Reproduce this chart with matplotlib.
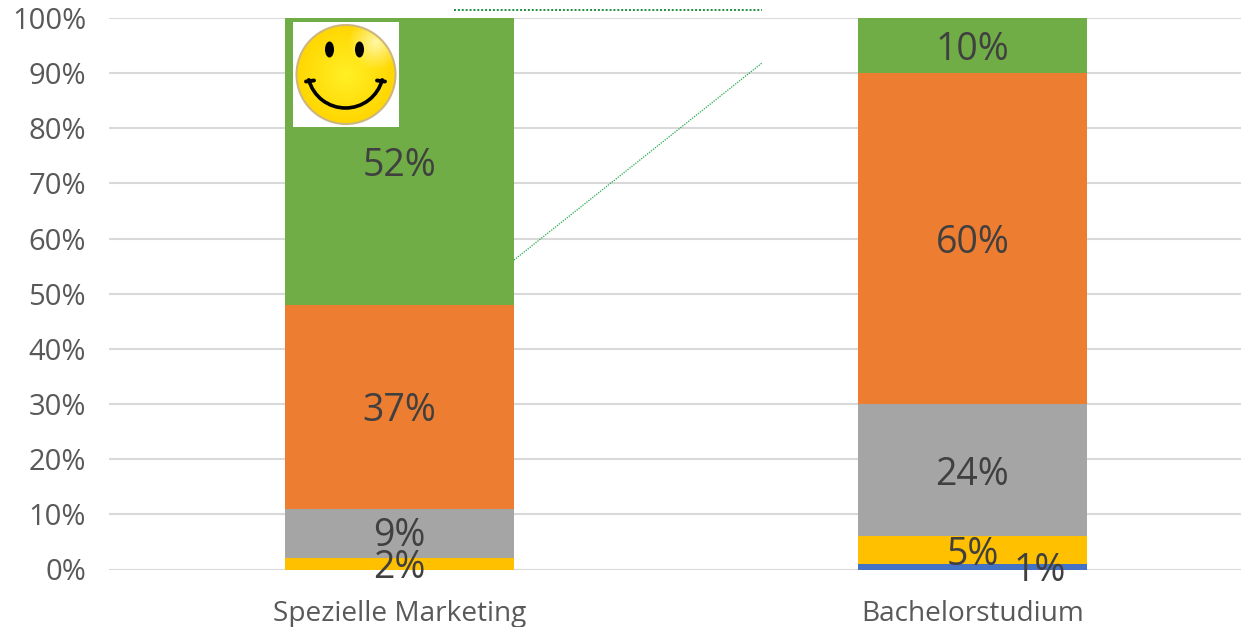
import numpy as np
from matplotlib import pyplot as plt
from matplotlib.lines import Line2D
from matplotlib.patches import Arc, Circle, Ellipse

plt.rcParams['font.family'] = ['Open Sans', 'DejaVu Sans']

categories = ['Spezielle Marketing', 'Bachelorstudium']
blue = [0, 1]
yellow = [2, 5]
grey = [9, 24]
orange = [37, 60]
green = [52, 10]
series = [(blue, '#4472C4'), (yellow, '#FFC000'), (grey, '#A5A5A5'),
          (orange, '#ED7D31'), (green, '#70AD47')]
y_ticks = list(range(0, 101, 10))

W, H = 1241, 627
# small nudges for the labels that sit on top of each other, in pixels
label_nudge = {(0, 9): (0, 1.7), (1, 1): (67.5, 0)}
base_drop = -4.5


def px(x, y):
    return x / W, 1 - y / H


fig = plt.figure(figsize=(W / 100, H / 100), dpi=100)
ax = fig.add_axes([109 / W, 1 - 569.5 / H, 1 - 109 / W, 551.5 / H])

x = np.arange(len(categories))
bottom = np.zeros(len(categories))
for values, color in series:
    ax.bar(x, values, 0.4, bottom=bottom, color=color, zorder=2)
    for i, v in enumerate(values):
        if v == 0:
            continue
        nudge = label_nudge.get((i, v), (0, 0))
        ax.annotate(f'{v}%', (x[i], bottom[i] + v / 2),
                    xytext=(nudge[0] * 0.72, (nudge[1] + base_drop) * 0.72),
                    textcoords='offset points', ha='center', va='center',
                    fontsize=27, color='#404040', zorder=5,
                    annotation_clip=False)
    bottom += np.array(values)

ax.set_xlim(-0.5 - 4 / 573, (W - 399.5) / 573)
ax.set_ylim(0, 100)
ax.set_xticks(x)
ax.set_xticklabels(categories, fontsize=20.2, color='#595959')
ax.set_yticks(y_ticks)
ax.set_yticklabels([f'{t}%' for t in y_ticks], fontsize=21, color='#595959')
ax.tick_params(length=0)
ax.tick_params(axis='x', pad=22)
ax.tick_params(axis='y', pad=16.5)
ax.grid(axis='y', color='#D9D9D9', lw=1.5, zorder=0)
ax.set_axisbelow(True)
for spine in ax.spines.values():
    spine.set_visible(False)

# thin dotted connector lines
for (x0, y0), (x1, y1), width, color in [((454, 10), (762, 10), 1.4, '#1B8F3E'),
                                         ((514, 260), (762, 63), 0.9, '#22AA4C')]:
    a, b = px(x0, y0), px(x1, y1)
    fig.add_artist(Line2D([a[0], b[0]], [a[1], b[1]], color=color, lw=width,
                          ls=(0, (1, 1))))

# smiley picture
left, top = px(293, 22)
right, low = px(399, 127)
sm = fig.add_axes([left, low, right - left, top - low], zorder=6)
sm.set_facecolor('white')
sm.set_xticks([])
sm.set_yticks([])
for spine in sm.spines.values():
    spine.set_visible(False)
yy, xx = np.mgrid[-1:1:200j, -1:1:200j]
glow = np.clip(np.hypot(xx, yy), 0, 1)[..., None]
face = (1 - glow) * np.array([1.0, 0.94, 0.15]) + glow * np.array([1.0, 0.84, 0.0])
shine = np.clip(1 - np.hypot(xx - 0.6, yy + 0.65) / 0.55, 0, 1)[..., None]
face = face + shine * (np.array([1.0, 0.97, 0.65]) - face)
img = sm.imshow(face, extent=(296, 396, 124, 25), aspect='auto', zorder=1)
sm.add_patch(Circle((346, 74.5), 49.5, fc='none', ec='#CDB77E', lw=1.5, zorder=2))
img.set_clip_path(Circle((346, 74.5), 49.5, transform=sm.transData))
sm.set_xlim(293, 399)
sm.set_ylim(127, 22)
sm.add_patch(Ellipse((329.5, 49.5), 9, 16, fc='black', zorder=3))
sm.add_patch(Ellipse((359.5, 49.5), 9, 16, fc='black', zorder=3))
sm.add_patch(Arc((345.5, 70), 76, 76, theta1=15, theta2=165, color='black', lw=2.6,
                 zorder=3, capstyle='round'))
sm.plot([306, 314], [81.5, 80.5], color='black', lw=2.8, solid_capstyle='round', zorder=3)
sm.plot([377, 385], [80.5, 81.5], color='black', lw=2.8, solid_capstyle='round', zorder=3)

fig.savefig('out.png', dpi=100)
